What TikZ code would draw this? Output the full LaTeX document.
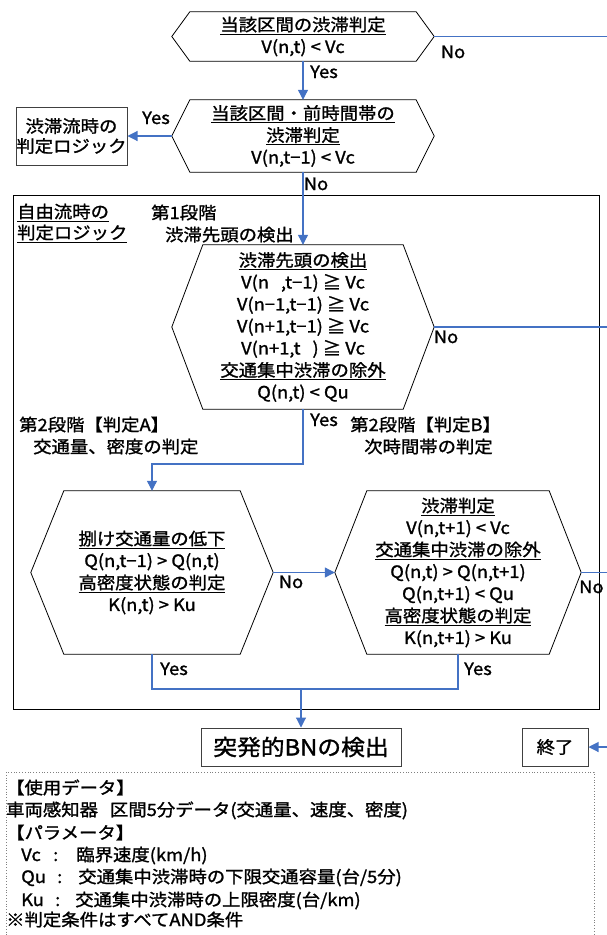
\documentclass[tikz,border=0pt]{standalone}
\usepackage{fontspec}
\setmainfont{Noto Sans CJK JP}[FakeStretch=1.08,FakeBold=1.3]
\usetikzlibrary{arrows.meta,calc}
\definecolor{ablue}{RGB}{68,114,196}
\definecolor{boxgray}{RGB}{64,64,64}
\tikzset{
  conn/.style={draw=ablue, line width=1.1pt},
  arr/.style={conn, -{Triangle[width=10pt,length=10pt]}},
  hexnode/.style={draw=none, inner sep=0pt, align=center, font=\fontsize{17}{22}\selectfont},
  hexline/.style={draw=black, line width=0.8pt},
  lbl/.style={inner sep=0pt, font=\fontsize{17}{22}\selectfont},
  rbox/.style={draw=boxgray, line width=1pt, inner sep=0pt, align=center, font=\fontsize{17}{20}\selectfont},
}
\newcommand\hexa[2]{\draw[hexline] (#1.west) -- ($(#1.north west)+(#2,0)$) -- ($(#1.north east)+(-#2,0)$) -- (#1.east) -- ($(#1.south east)+(-#2,0)$) -- ($(#1.south west)+(#2,0)$) -- cycle;}
\begin{document}
\begin{tikzpicture}[x=1pt,y=-1pt]
\useasboundingbox (0,0) rectangle (607,935);
% big frame
\draw[line width=0.9pt] (13,195) rectangle (599,709);
% dotted legend frame
\draw[gray, line width=0.8pt, dotted] (6,772) rectangle (594,940);

% hexagons
\node[hexnode, minimum width=262pt, minimum height=49pt] (h1) at (303,36.5)
  {\underline{当該区間の渋滞判定}\\V(n,t) < Vc};
\hexa{h1}{18}
\node[hexnode, minimum width=262pt, minimum height=72pt] (h2) at (303,136)
  {\underline{当該区間・前時間帯の}\\\underline{渋滞判定}\\V(n,t−1) < Vc};
\hexa{h2}{18}
\node[hexnode, minimum width=262pt, minimum height=164pt] (h3) at (303,327)
  {\underline{渋滞先頭の検出}\\V(n\hspace{12pt},t−1) ≧ Vc\\V(n−1,t−1) ≧ Vc\\V(n+1,t−1) ≧ Vc\\V(n+1,t\hspace{12pt}) ≧ Vc\\\underline{交通集中渋滞の除外}\\Q(n,t) < Qu};
\hexa{h3}{31}
\node[hexnode, minimum width=242pt, minimum height=163pt] (h4) at (152,572.5)
  {\underline{捌け交通量の低下}\\Q(n,t−1) > Q(n,t)\\\underline{高密度状態の判定}\\K(n,t) > Ku};
\hexa{h4}{33}
\node[hexnode, minimum width=246pt, minimum height=163pt] (h5) at (458,572.5)
  {\underline{渋滞判定}\\V(n,t+1) < Vc\\\underline{交通集中渋滞の除外}\\Q(n,t) > Q(n,t+1)\\Q(n,t+1) < Qu\\\underline{高密度状態の判定}\\K(n,t+1) > Ku};
\hexa{h5}{32}

% boxes
\node[rbox, minimum width=111pt, minimum height=58pt] (cong) at (71.5,136) {渋滞流時の\\判定ロジック};
\node[rbox, minimum width=200pt, minimum height=38pt, font=\fontsize{22}{24}\selectfont] (bn) at (301,747) {突発的BNの検出};
\node[rbox, minimum width=66pt, minimum height=38pt] (end) at (555,747) {終了};

% coordinates
\coordinate (rail) at (612,0);
\coordinate (j1) at (303,464);
\coordinate (m) at (301,689);

% connectors
\draw[arr] (h1.south) -- (h2.north);
\draw[arr] (h2.west) -- (cong.east);
\draw[arr] (h2.south) -- (h3.north);
\draw[conn] (h1.east) -- (h1.east -| rail);
\draw[conn] (h3.east) -- (h3.east -| rail);
\draw[conn] (h5.east) -- (h5.east -| rail);
\draw[arr] (end.east -| rail) -- (end.east);
\draw[arr] (h3.south) -- (j1) -| (h4.north);
\draw[arr] (h4.east) -- (h5.west);
\draw[conn] (h4.south) |- (h5.south |- m) -- (h5.south);
\draw[arr] (m) -- (bn.north);

% labels
\node[lbl, anchor=base] (l1) at (324,78) {Yes};
\node[lbl, anchor=base] (l2) at (453,58) {No};
\node[lbl, anchor=base] (l3) at (156,124) {Yes};
\node[lbl, anchor=base] (l4) at (316,190) {No};
\node[lbl, anchor=base] (l5) at (446,343) {No};
\node[lbl, anchor=base] (l6) at (324,426) {Yes};
\node[lbl, anchor=base] (l7) at (291,588) {No};
\node[lbl, anchor=base west] (l8) at (579,593) {No};
\node[lbl, anchor=base] (l9) at (174,675) {Yes};
\node[lbl, anchor=base] (l10) at (478,675) {Yes};

\node[lbl, anchor=base west] (f1) at (17,218) {\underline{自由流時の}};
\node[lbl, anchor=base west] (f2) at (17,239) {\underline{判定ロジック}};
\node[lbl, anchor=base west] (s1) at (151,219) {第1段階};
\node[lbl, anchor=base west] (s2) at (165,241) {渋滞先頭の検出};
\node[lbl, anchor=base west] (a1) at (19,431) {第2段階【判定A】};
\node[lbl, anchor=base west] (a2) at (33,453) {交通量、密度の判定};
\node[lbl, anchor=base west] (b1) at (350,431) {第2段階【判定B】};
\node[lbl, anchor=base west] (b2) at (364,453) {次時間帯の判定};

% legend
\node[lbl, anchor=base west] (g1) at (6,794) {【使用データ】};
\node[lbl, anchor=base west] (g2) at (6,816) {車両感知器\hspace{12pt}区間5分データ(交通量、速度、密度)};
\node[lbl, anchor=base west] (g3) at (6,839) {【パラメータ】};
\node[lbl, anchor=base west] (g4) at (21,861) {\makebox[32pt][l]{Vc}:\hspace{18pt}臨界速度(km/h)};
\node[lbl, anchor=base west] (g5) at (21,883) {\makebox[36pt][l]{Qu}:\hspace{16pt}交通集中渋滞時の下限交通容量(台/5分)};
\node[lbl, anchor=base west] (g6) at (21,906) {\makebox[34pt][l]{Ku}:\hspace{15pt}交通集中渋滞時の上限密度(台/km)};
\node[lbl, anchor=base west] (g7) at (6,926) {※判定条件はすべてAND条件};
\end{tikzpicture}
\end{document}
